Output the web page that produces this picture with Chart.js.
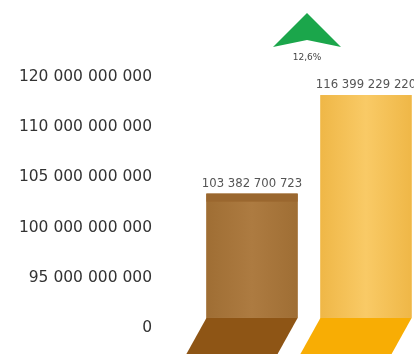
<!DOCTYPE html>
<html>
<head>
<meta charset="utf-8">
<script src="https://cdn.jsdelivr.net/npm/chart.js@4.4.0/dist/chart.umd.min.js"></script>
<style>
  html, body { margin: 0; padding: 0; background: #fff; overflow: hidden; }
  #wrap { width: 414px; height: 356px; overflow: hidden; }
  #box { position: relative; width: 423px; height: 356px; }
</style>
</head>
<body>
<div id="wrap"><div id="box"><canvas id="chart"></canvas></div></div>
<script>
// Données
const categories = ['N-1', 'N'];
const values = [103382700723, 116399229220];
const tickValues = [0, 95000000000, 100000000000, 105000000000, 110000000000, 120000000000];
const growthLabel = '12,6%';

// Couleurs
const barColors = ['#a8763c', '#f6c35c'];
const edgeColors = ['#9f6e34', '#efb747'];
const centerColors = ['#ad7b41', '#f9ca66'];
const baseColors = ['#8e5515', '#f8ad04'];

// 120000000000 -> "120 000 000 000"
function fmt(v) {
    return String(v).replace(/\B(?=(\d{3})+(?!\d))/g, ' ');
}

// axe coupé : chaque graduation prend la même hauteur
function toIndex(v) {
    for (let i = 0; i < tickValues.length - 1; i++) {
        if (v <= tickValues[i + 1]) {
            return i + (v - tickValues[i]) / (tickValues[i + 1] - tickValues[i]);
        }
    }
    return tickValues.length - 1;
}

const decor = {
    id: 'decor',
    afterDatasetsDraw(chart) {
        const ctx = chart.ctx;
        const meta = chart.getDatasetMeta(0);
        const basePx = chart.scales.y.getPixelForValue(0);
        const y0 = basePx - 10;
        const y1 = basePx + 26;
        const slant = 20;

        meta.data.forEach((bar, i) => {
            const left = bar.x - bar.width / 2;
            const right = bar.x + bar.width / 2;

            // léger dégradé horizontal
            const g = ctx.createLinearGradient(left, 0, right, 0);
            g.addColorStop(0, edgeColors[i]);
            g.addColorStop(0.5, centerColors[i]);
            g.addColorStop(1, edgeColors[i]);
            ctx.fillStyle = g;
            ctx.fillRect(left, bar.y, bar.width, basePx - bar.y);

            if (i === 0) {
                ctx.fillStyle = '#9a672f';
                ctx.fillRect(left, bar.y, bar.width, 8);
            }

            // socle en perspective
            ctx.fillStyle = '#fff';
            ctx.fillRect(left, y0, bar.width + 1, basePx - y0 + 1);
            ctx.fillStyle = baseColors[i];
            ctx.beginPath();
            ctx.moveTo(left, y0);
            ctx.lineTo(right, y0);
            ctx.lineTo(right - slant, y1);
            ctx.lineTo(left - slant, y1);
            ctx.closePath();
            ctx.fill();

            // étiquette de valeur
            ctx.font = '11.7px "DejaVu Sans"';
            ctx.fillStyle = '#555';
            ctx.textAlign = 'center';
            ctx.textBaseline = 'middle';
            ctx.fillText(fmt(values[i]), bar.x, bar.y - 10);
        });

        // flèche de croissance
        const b0 = meta.data[0], b1 = meta.data[1];
        const cx = ((b0.x + b0.width / 2) + (b1.x - b1.width / 2)) / 2 - 2;
        const bottom = b1.y - 48;
        ctx.fillStyle = '#1ba64b';
        ctx.beginPath();
        ctx.moveTo(cx, bottom - 34);
        ctx.lineTo(cx + 34, bottom);
        ctx.lineTo(cx, bottom - 7);
        ctx.lineTo(cx - 34, bottom);
        ctx.closePath();
        ctx.fill();

        ctx.font = '9px "DejaVu Sans"';
        ctx.fillStyle = '#444';
        ctx.textAlign = 'center';
        ctx.fillText(growthLabel, cx, bottom + 11);
    }
};

new Chart(document.getElementById('chart'), {
    type: 'bar',
    data: {
        labels: categories,
        datasets: [{
            data: values.map(toIndex),
            backgroundColor: barColors,
            borderWidth: 0,
            barPercentage: 1,
            categoryPercentage: 0.8
        }]
    },
    options: {
        responsive: true,
        maintainAspectRatio: false,
        animation: false,
        layout: { padding: 0 },
        plugins: {
            legend: { display: false },
            tooltip: { enabled: false }
        },
        scales: {
            x: { display: false },
            y: {
                min: -0.558,
                max: 6.534,
                grid: { display: false, drawTicks: false },
                border: { display: false },
                afterBuildTicks: scale => {
                    scale.ticks = tickValues.map((v, i) => ({ value: i }));
                },
                afterFit: scale => {
                    scale.width = 195;
                    scale.paddingTop = 0;
                    scale.paddingBottom = 0;
                },
                ticks: {
                    padding: 43,
                    color: '#333',
                    font: { family: 'DejaVu Sans', size: 15.5 },
                    callback: value => fmt(tickValues[value])
                }
            }
        }
    },
    plugins: [decor]
});
</script>
</body>
</html>
